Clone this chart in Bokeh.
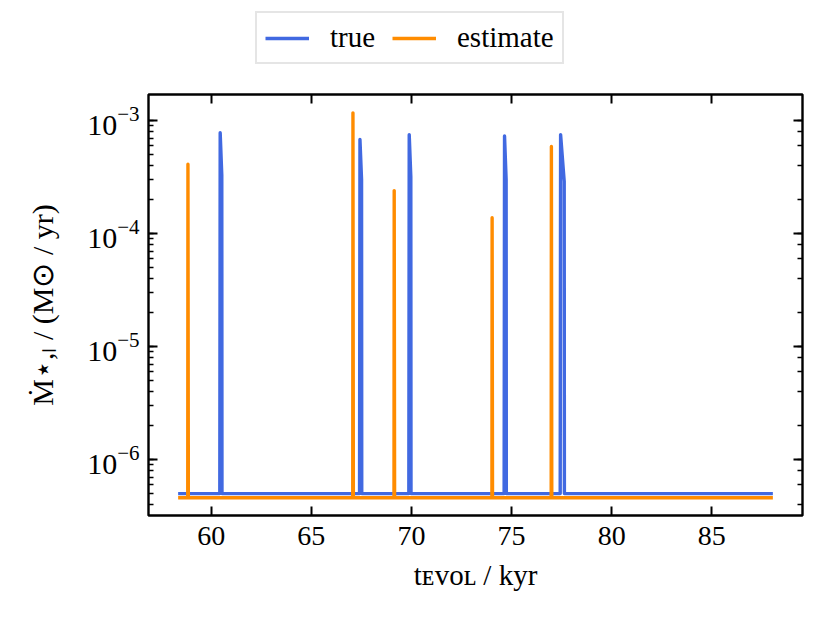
from bokeh.plotting import figure
from bokeh.layouts import column
from bokeh.models import (Range1d, LinearAxis, LogAxis, Legend, LegendItem,
                          FixedTicker, LogTicker, CustomJSTickFormatter)
from bokeh.embed import file_html
from bokeh.resources import INLINE

FONT = "Liberation Serif"

# ---- data ----
t_start, t_end = 58.35, 88.05

true_base = 5.0e-7
true_spike_t = [60.45, 67.43, 69.89, 74.65, 77.45]
true_spike_peak = [7.8e-4, 6.8e-4, 7.5e-4, 7.3e-4, 7.5e-4]
true_spike_tail = [3.3e-4, 3.0e-4, 3.2e-4, 3.0e-4, 2.9e-4]
true_spike_len = [0.08, 0.08, 0.08, 0.08, 0.18]

est_base = 4.6e-7
est_spike_t = [58.84, 67.08, 69.14, 74.03, 76.99]
est_spike_peak = [4.1e-4, 1.17e-3, 2.4e-4, 1.38e-4, 5.9e-4]

x_ticks = [60, 65, 70, 75, 80, 85]
x_limits = (56.87, 89.53)
y_limits = (3.2e-7, 1.70e-3)

legend_labels = ["true", "estimate"]
colors = ["#4169E1", "#FF8C00"]
x_label = "t\u1D07\u1D20\u1D0F\u029F / kyr"
y_label = "\u1E40\u22C6,\u2097 / (M\u2299 / yr)"

# ---- build line vertices ----
tx, ty = [t_start], [true_base]
for t, pk, tl, w in zip(true_spike_t, true_spike_peak, true_spike_tail, true_spike_len):
    tx += [t - 0.02, t, t + w, t + w + 0.01]
    ty += [true_base, pk, tl, true_base]
tx.append(t_end); ty.append(true_base)

ex, ey = [t_start], [est_base]
for t, pk in zip(est_spike_t, est_spike_peak):
    ex += [t - 0.01, t, t + 0.02]
    ey += [est_base, pk, est_base]
ex.append(t_end); ey.append(est_base)

W = 823
TOP_H = 70

# ---- main plot ----
p = figure(width=W, height=545,
           x_range=Range1d(*x_limits), y_range=Range1d(*y_limits),
           y_axis_type="log", output_backend="svg", toolbar_location=None,
           min_border_left=148, min_border_right=21,
           min_border_top=24, min_border_bottom=100)
p.background_fill_color = "white"
p.border_fill_color = "white"
p.outline_line_color = "black"
p.outline_line_width = 2.4
p.outline_line_alpha = 1.0
p.xgrid.visible = False
p.ygrid.visible = False

p.line(tx, ty, line_color=colors[0], line_width=3.4, line_join="round")
p.line(ex, ey, line_color=colors[1], line_width=3.4, line_join="round")

blank = CustomJSTickFormatter(code="return ''")


def style(ax, labels=True, minor=True, standoff=10, size="28px"):
    ax.axis_line_color = None
    ax.major_tick_in = 9
    ax.major_tick_out = 0
    ax.major_tick_line_width = 2
    ax.major_tick_line_color = "black"
    if minor:
        ax.minor_tick_in = 5
        ax.minor_tick_out = 0
        ax.minor_tick_line_width = 1.5
        ax.minor_tick_line_color = "black"
    else:
        ax.minor_tick_line_color = None
    ax.major_label_text_font = FONT
    ax.major_label_text_color = "black"
    if labels:
        ax.major_label_text_font_size = size
        ax.major_label_standoff = standoff
    else:
        ax.formatter = blank
        ax.major_label_text_font_size = "1px"
        ax.major_label_standoff = 0
    ax.axis_label_text_font = FONT
    ax.axis_label_text_font_style = "normal"
    ax.axis_label_text_color = "black"


p.xaxis.ticker = FixedTicker(ticks=x_ticks)
style(p.xaxis[0], labels=True, minor=False, standoff=11, size="28px")
style(p.yaxis[0], labels=True, minor=True, standoff=9, size="30px")
p.xaxis.axis_label = x_label
p.xaxis.axis_label_text_font_size = "29px"
p.xaxis.axis_label_standoff = 11
p.yaxis.axis_label = y_label
p.yaxis.axis_label_text_font_size = "30px"
p.yaxis.axis_label_standoff = 25

top = LinearAxis(ticker=FixedTicker(ticks=x_ticks))
style(top, labels=False, minor=False)
p.add_layout(top, "above")
right = LogAxis(ticker=LogTicker())
style(right, labels=False, minor=True)
p.add_layout(right, "right")

# ---- legend strip above the plot (frames are aligned by the column layout) ----
lf = figure(width=W, height=TOP_H, x_range=Range1d(0, 1), y_range=Range1d(0, 1),
            output_backend="svg", toolbar_location=None, min_border=0)
lf.axis.visible = False
lf.xgrid.visible = False
lf.ygrid.visible = False
lf.outline_line_color = None
lf.background_fill_color = "white"
lf.border_fill_color = "white"
# same series, outside this strip's ranges: only their legend keys show
k_true = lf.line(tx, ty, line_color=colors[0], line_width=3.4)
k_est = lf.line(ex, ey, line_color=colors[1], line_width=3.4)

legend = Legend(items=[LegendItem(label=legend_labels[0], renderers=[k_true]),
                       LegendItem(label=legend_labels[1], renderers=[k_est])],
                orientation="horizontal", location=(107, TOP_H - 64),
                label_text_font=FONT, label_text_font_size="29px",
                label_text_color="black", label_width=50,
                glyph_width=44, glyph_height=20, label_standoff=21,
                spacing=12, padding=8, margin=0,
                border_line_color="#cccccc", border_line_width=2.2,
                background_fill_alpha=0.8)
lf.add_layout(legend, "center")

layout = column(lf, p, spacing=0)
open("out.html", "w").write(file_html(layout, INLINE))
